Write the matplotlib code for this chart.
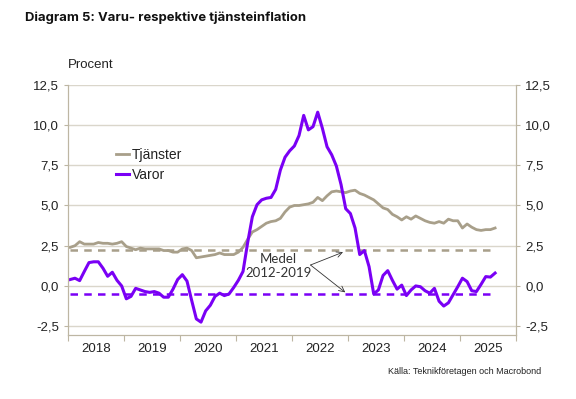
import numpy as np
import matplotlib
matplotlib.use("Agg")
import matplotlib.pyplot as plt

# monthly data, Jan 2018 - Aug 2025
start_year = 2018
tjanster = [
    2.4, 2.5, 2.75, 2.6, 2.6, 2.6, 2.7, 2.65, 2.65, 2.6, 2.65, 2.75,
    2.45, 2.35, 2.25, 2.35, 2.3, 2.3, 2.3, 2.3, 2.2, 2.2, 2.1, 2.1,
    2.3, 2.35, 2.2, 1.75, 1.8, 1.85, 1.9, 1.95, 2.05, 1.95, 1.95, 1.95,
    2.1, 2.4, 2.9, 3.35, 3.5, 3.7, 3.9, 4.0, 4.05, 4.2, 4.6, 4.9,
    5.0, 5.0, 5.05, 5.1, 5.2, 5.5, 5.3, 5.6, 5.85, 5.9, 5.85, 5.8,
    5.9, 5.95, 5.75, 5.65, 5.5, 5.35, 5.1, 4.85, 4.75, 4.45, 4.3, 4.1,
    4.3, 4.15, 4.35, 4.2, 4.05, 3.95, 3.9, 4.0, 3.9, 4.15, 4.05, 4.05,
    3.6, 3.85, 3.65, 3.5, 3.45, 3.5, 3.5, 3.6,
]
varor = [
    0.4, 0.48, 0.33, 0.9, 1.45, 1.5, 1.5, 1.1, 0.6, 0.85, 0.35, 0.0,
    -0.8, -0.65, -0.15, -0.25, -0.35, -0.4, -0.35, -0.45, -0.7, -0.7, -0.2, 0.4,
    0.7, 0.3, -0.9, -2.05, -2.25, -1.55, -1.2, -0.65, -0.45, -0.6, -0.5, -0.1,
    0.35, 0.9, 2.7, 4.3, 5.05, 5.35, 5.45, 5.5, 6.0, 7.2, 8.0, 8.4,
    8.7, 9.35, 10.6, 9.7, 9.9, 10.8, 9.8, 8.65, 8.15, 7.45, 6.3, 4.8,
    4.5, 3.6, 1.95, 2.2, 1.2, -0.5, -0.25, 0.65, 0.95, 0.35, -0.2, 0.05,
    -0.6, -0.25, 0.0, -0.05, -0.3, -0.45, -0.15, -0.95, -1.25, -1.05, -0.55, -0.05,
    0.48, 0.27, -0.3, -0.35, 0.1, 0.58, 0.55, 0.8,
]
medel_tjanster = 2.25
medel_varor = -0.5
years = list(range(2018, 2026))
yticks = [-2.5, 0.0, 2.5, 5.0, 7.5, 10.0, 12.5]

gray = "#A89F8A"
purple = "#7A00F5"
grid_c = "#DAD6CB"
spine_c = "#BDB6A3"
text_c = "#222222"

plt.rcParams["font.family"] = ["Liberation Sans", "DejaVu Sans"]

x = start_year + (np.arange(len(varor)) + 0.5) / 12

fig = plt.figure(figsize=(5.76, 3.99), dpi=100)
ax = fig.add_axes([0.118, 0.1604, 0.778, 0.627])

ax.plot([x[0], x[-1]], [medel_tjanster] * 2, color=gray, lw=1.8,
        dashes=(3, 2.5))
ax.plot([x[0], x[-1]], [medel_varor] * 2, color=purple, lw=1.8,
        dashes=(3, 2.5))
ax.plot(x, tjanster, color=gray, lw=2.0, label="Tjänster")
ax.plot(x, varor, color=purple, lw=2.2, label="Varor")

ax.set_xlim(2018, 2026)
ax.set_ylim(-3.05, 12.5)
ax.set_yticks(yticks)
ax.set_yticklabels([f"{v:.1f}".replace(".", ",") for v in yticks])
ax.grid(axis="y", color=grid_c, lw=1.0)
ax.set_axisbelow(True)

ax.set_xticks(years + [2026])
ax.set_xticklabels([])
ax.set_xticks([y + 0.5 for y in years], minor=True)
ax.set_xticklabels([str(y) for y in years], minor=True)
ax.tick_params(axis="x", which="major", length=4, color=spine_c)
ax.tick_params(axis="x", which="minor", length=0, pad=6, labelsize=9.5,
               labelcolor=text_c)
ax.tick_params(axis="y", length=3, color=spine_c, labelsize=9.5,
               labelcolor=text_c)

for s in ["left", "right", "bottom"]:
    ax.spines[s].set_color(spine_c)
ax.spines["top"].set_visible(False)

ax2 = ax.twinx()
ax2.set_ylim(ax.get_ylim())
ax2.set_yticks(yticks)
ax2.set_yticklabels([f"{v:.1f}".replace(".", ",") for v in yticks])
ax2.tick_params(axis="y", length=3, color=spine_c, labelsize=9.5,
                labelcolor=text_c)
for s in ["left", "right", "bottom"]:
    ax2.spines[s].set_color(spine_c)
ax2.spines["top"].set_visible(False)

leg = ax.legend(loc="upper left", bbox_to_anchor=(0.092, 0.775), frameon=False,
                fontsize=10, handlelength=0.9, handletextpad=0.25,
                labelspacing=0.45, borderpad=0)
for t in leg.get_texts():
    t.set_color(text_c)

ax.text(2021.76, 1.25, "Medel\n2012-2019", ha="center", va="center",
        fontsize=9.5, color="#333333", linespacing=1.25, family="Lato")
for tgt in [(2022.91, 2.1), (2022.95, -0.4)]:
    ax.annotate("", xy=tgt, xytext=(2022.33, 1.3),
                arrowprops=dict(arrowstyle="->", color="#333333", lw=0.6,
                                shrinkA=0, shrinkB=0))

fig.text(25 / 576, 1 - 18 / 399, "Diagram 5: Varu- respektive tjänsteinflation",
         fontsize=9.4, fontweight="bold", va="center", ha="left",
         family="Inter", color="#111111")
fig.text(68 / 576, 1 - 65 / 399, "Procent", fontsize=9.5, va="center",
         ha="left", color=text_c)
fig.text(541 / 576, 1 - 371 / 399, "Källa: Teknikföretagen och Macrobond",
         fontsize=6.5, va="center", ha="right", color=text_c)

fig.savefig("out.png", dpi=100)
